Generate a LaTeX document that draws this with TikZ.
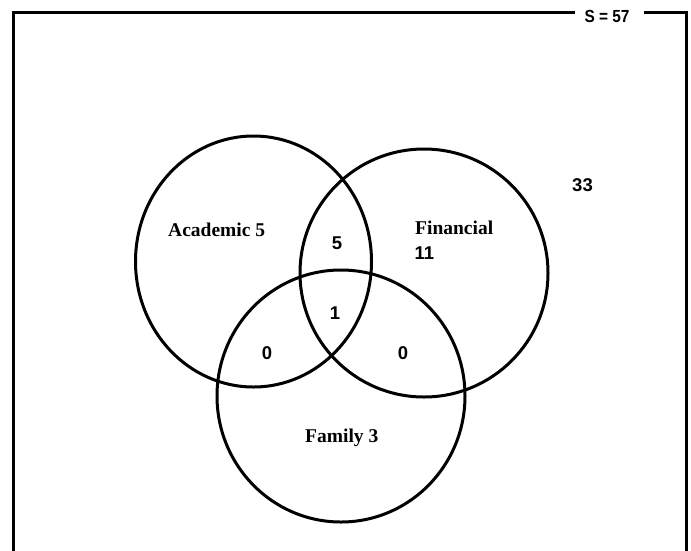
\documentclass[tikz,border=0pt]{standalone}
\usepackage{fontspec}
\setmainfont{Liberation Serif}
\setsansfont{Liberation Sans}
\usetikzlibrary{shapes.geometric}
\begin{document}
\begin{tikzpicture}[x=1pt,y=-1pt,
  ring/.style={draw=black,line width=3pt,ellipse,inner sep=0pt},
  setlabel/.style={font=\fontsize{19.5}{20}\selectfont\bfseries\rmfamily,inner sep=0pt,anchor=west},
  countlabel/.style={font=\fontsize{18.5}{19}\selectfont\bfseries\sffamily,inner sep=0pt},
  frameline/.style={line width=3pt,line cap=rect}]
\useasboundingbox (0,0) rectangle (691,550);
\clip (0,0) rectangle (691,550);
% universe frame
\coordinate (tl) at (13,12);
\coordinate (tlg) at (573,12);
\coordinate (bl) at (13,560);
\coordinate (trg) at (645,12);
\coordinate (tr) at (686,12);
\coordinate (br) at (686,560);
\draw[frameline] (tlg) -- (tl) -- (bl);
\draw[frameline] (trg) -- (tr) -- (br);
\node[font=\fontsize{17.5}{18}\selectfont\bfseries\sffamily,inner sep=0pt,xscale=0.88] (S) at (607,16) {S = 57};
% sets
\node[ring,minimum width=236pt,minimum height=251pt] (acad) at (253.5,261.5) {};
\node[ring,minimum width=248pt,minimum height=248pt] (fin) at (424,273) {};
\node[ring,minimum width=248pt,minimum height=252pt] (fam) at (341,396) {};
% labels
\node[setlabel] (la) at (168,230) {Academic 5};
\node[setlabel] (lf) at (415,228) {Financial};
\node[countlabel] (l11) at (424.5,253) {11};
\node[setlabel] (lm) at (305,438) {Family 3};
\node[countlabel] (l33) at (582.5,185) {33};
\node[countlabel] (af) at (337,243) {5};
\node[countlabel] (aff) at (335,313) {1};
\node[countlabel] (am) at (267,353) {0};
\node[countlabel] (fm) at (403,353) {0};
\end{tikzpicture}
\end{document}
